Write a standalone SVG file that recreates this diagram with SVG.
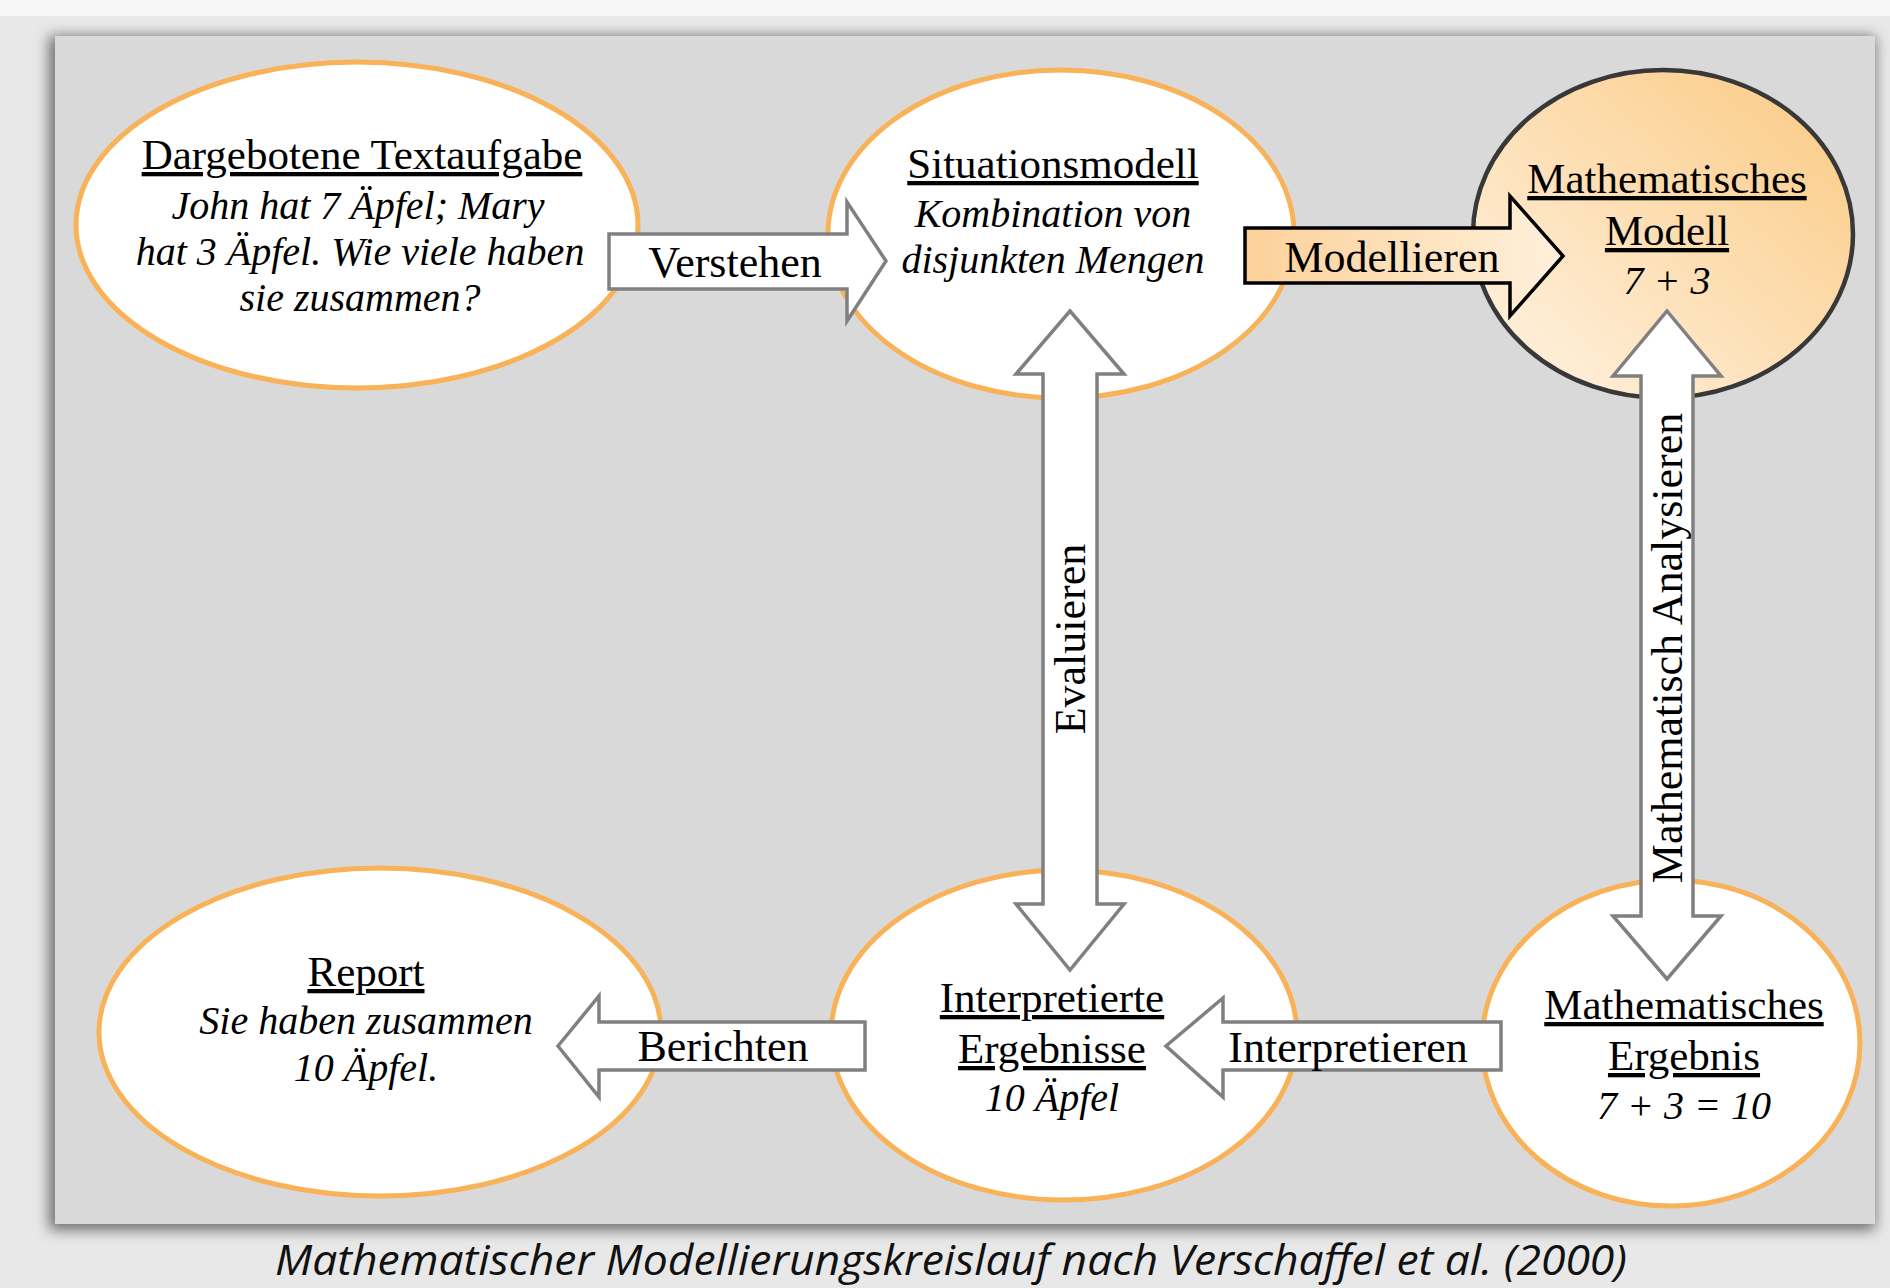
<svg xmlns="http://www.w3.org/2000/svg" width="1890" height="1288" viewBox="0 0 1890 1288">
<defs>
  <style>
    .node { fill: #ffffff; stroke: #f9b257; stroke-width: 5; }
    .title { font-family: "Liberation Serif", "Times New Roman", serif; font-size: 43px; fill: #000; text-anchor: middle; text-decoration: underline; }
    .body { font-family: "Liberation Serif", "Times New Roman", serif; font-size: 40px; font-style: italic; fill: #000; text-anchor: middle; }
    .arrow { fill: #ffffff; stroke: #808080; stroke-width: 3.5; stroke-linejoin: miter; }
    .alabel { font-family: "Liberation Serif", "Times New Roman", serif; font-size: 44px; fill: #000; text-anchor: middle; }
  </style>
  <linearGradient id="modelGrad" x1="1" y1="0" x2="0" y2="1">
    <stop offset="0" stop-color="#fbc981"/>
    <stop offset="1" stop-color="#fff4e6"/>
  </linearGradient>
  <linearGradient id="arrowGrad" x1="0" y1="0" x2="1" y2="0">
    <stop offset="0" stop-color="#fcd199"/>
    <stop offset="1" stop-color="#fff0dc"/>
  </linearGradient>
  <filter id="shadow" x="-5%" y="-5%" width="110%" height="110%">
    <feGaussianBlur stdDeviation="7"/>
  </filter>
</defs>

<rect x="0" y="0" width="1890" height="1288" fill="#e8e8e8"/>
<rect x="0" y="0" width="1890" height="16" fill="#f7f7f7"/>
<rect x="49" y="36" width="1826" height="1194" fill="#6e6e6e" filter="url(#shadow)"/>
<rect x="55" y="36" width="1820" height="1188" fill="#d9d9d9"/>

<g id="node-textaufgabe">
  <ellipse class="node" cx="357" cy="225" rx="281" ry="163"/>
  <text class="title" x="362" y="169">Dargebotene Textaufgabe</text>
  <text class="body" x="358" y="219">John hat 7 Äpfel; Mary</text>
  <text class="body" x="360" y="265">hat 3 Äpfel. Wie viele haben</text>
  <text class="body" x="360" y="311">sie zusammen?</text>
</g>

<g id="node-situationsmodell">
  <ellipse class="node" cx="1061" cy="234" rx="233" ry="164"/>
  <text class="title" x="1053" y="178">Situationsmodell</text>
  <text class="body" x="1053" y="227">Kombination von</text>
  <text class="body" x="1053" y="273">disjunkten Mengen</text>
</g>

<g id="node-mathmodell">
  <ellipse cx="1663" cy="234" rx="190" ry="164" fill="url(#modelGrad)" stroke="#383838" stroke-width="4.5"/>
  <text class="title" x="1667" y="193">Mathematisches</text>
  <text class="title" x="1667" y="245">Modell</text>
  <text class="body" x="1667" y="294">7 + 3</text>
</g>

<g id="node-report">
  <ellipse class="node" cx="380" cy="1032" rx="281" ry="164"/>
  <text class="title" x="366" y="986">Report</text>
  <text class="body" x="366" y="1034">Sie haben zusammen</text>
  <text class="body" x="366" y="1081">10 Äpfel.</text>
</g>

<g id="node-interpretiert">
  <ellipse class="node" cx="1064" cy="1035" rx="233" ry="165"/>
  <text class="title" x="1052" y="1012">Interpretierte</text>
  <text class="title" x="1052" y="1063">Ergebnisse</text>
  <text class="body" x="1052" y="1111">10 Äpfel</text>
</g>

<g id="node-mathergebnis">
  <ellipse class="node" cx="1671" cy="1043" rx="189" ry="163"/>
  <text class="title" x="1684" y="1019">Mathematisches</text>
  <text class="title" x="1684" y="1070">Ergebnis</text>
  <text class="body" x="1684" y="1119">7 + 3 = 10</text>
</g>

<g id="connectors">
  <g id="arrow-verstehen">
    <path class="arrow" d="M609,234 L847,234 L847,202 L886,261 L847,321 L847,289 L609,289 Z"/>
    <text class="alabel" x="735" y="277">Verstehen</text>
  </g>
  <g id="arrow-modellieren">
    <path d="M1245,228 L1510,228 L1510,196 L1563,256 L1510,316 L1510,283 L1245,283 Z" fill="url(#arrowGrad)" stroke="#000" stroke-width="3.5"/>
    <text class="alabel" x="1392" y="272">Modellieren</text>
  </g>
  <g id="arrow-evaluieren">
    <path class="arrow" d="M1070,311 L1124,374 L1097,374 L1097,904 L1124,904 L1070,970 L1016,904 L1043,904 L1043,374 L1016,374 Z"/>
    <text class="alabel" transform="translate(1085,639) rotate(-90)">Evaluieren</text>
  </g>
  <g id="arrow-analysieren">
    <path class="arrow" d="M1667,311 L1721,376 L1693,376 L1693,916 L1721,916 L1667,979 L1613,916 L1641,916 L1641,376 L1613,376 Z"/>
    <text class="alabel" transform="translate(1682,648) rotate(-90)">Mathematisch Analysieren</text>
  </g>
  <g id="arrow-berichten">
    <path class="arrow" d="M558,1046 L599,996 L599,1022 L865,1022 L865,1070 L599,1070 L599,1097 Z"/>
    <text class="alabel" x="723" y="1061">Berichten</text>
  </g>
  <g id="arrow-interpretieren">
    <path class="arrow" d="M1166,1046 L1223,998 L1223,1022 L1501,1022 L1501,1070 L1223,1070 L1223,1097 Z"/>
    <text class="alabel" x="1348" y="1062">Interpretieren</text>
  </g>
</g>

<text x="951" y="1275" font-family="'Open Sans', 'Noto Sans', sans-serif" font-size="42" font-style="italic" fill="#111" text-anchor="middle" textLength="1352" lengthAdjust="spacingAndGlyphs">Mathematischer Modellierungskreislauf nach Verschaffel et al. (2000)</text>
</svg>
